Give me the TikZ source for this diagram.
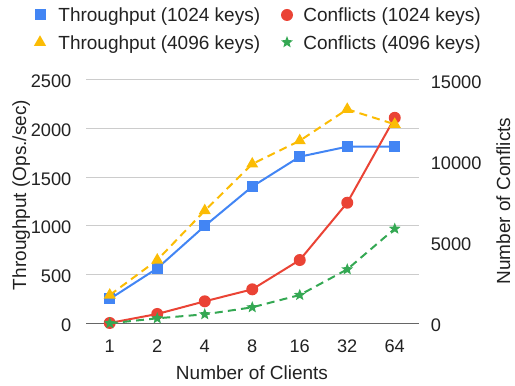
\documentclass[tikz,border=0pt]{standalone}
\usepackage{fontspec}
\setmainfont{Liberation Sans}
\usepackage{xcolor}
\usepackage{tikz}
\usetikzlibrary{shapes.geometric}
\definecolor{tpBlue}{RGB}{66,133,244}
\definecolor{cfRed}{RGB}{234,67,53}
\definecolor{tpYellow}{RGB}{251,188,4}
\definecolor{cfGreen}{RGB}{52,168,83}
\definecolor{gridGray}{RGB}{204,204,204}
\definecolor{axisGray}{RGB}{102,102,102}
\definecolor{txtGray}{RGB}{34,34,34}
\tikzset{
  sqmark/.style={rectangle, fill=tpBlue, inner sep=0pt, minimum size=5.5pt},
  circmark/.style={circle, fill=cfRed, inner sep=0pt, minimum size=6pt},
  trimark/.style={regular polygon, regular polygon sides=3, fill=tpYellow, inner sep=0pt, minimum size=7pt},
  starmark/.style={star, star points=5, star point ratio=2.3, fill=cfGreen, inner sep=0pt, minimum size=6.2pt},
  lineBlue/.style={tpBlue, line width=1pt},
  lineRed/.style={cfRed, line width=1pt},
  lineYellow/.style={tpYellow, line width=1pt, dash pattern=on 4pt off 2.6pt},
  lineGreen/.style={cfGreen, line width=1pt, dash pattern=on 4pt off 2.6pt},
  ticklab/.style={anchor=base, text=txtGray, inner sep=0pt},
  numlab/.style={ticklab, font=\fontsize{9.1}{11}\selectfont}
}

\begin{document}
\begin{tikzpicture}[x=0.5pt,y=0.5pt,font=\fontsize{9.5}{11}\selectfont]
    \useasboundingbox (0,0) rectangle (515,386);

    % legend
    \node[sqmark] (legA) at (40,371) {};
    \node[ticklab, anchor=base west] (legAtxt) at (58,364.2) {Throughput (1024 keys)};
    \node[circmark] (legB) at (287,371) {};
    \node[ticklab, anchor=base west] (legBtxt) at (303,364.2) {Conflicts (1024 keys)};
    \node[trimark] (legC) at (40,343.7) {};
    \node[ticklab, anchor=base west] (legCtxt) at (58,336.9) {Throughput (4096 keys)};
    \node[starmark] (legD) at (287,343.7) {};
    \node[ticklab, anchor=base west] (legDtxt) at (303,336.9) {Conflicts (4096 keys)};

    % axis titles
    \node[ticklab, rotate=90] (ylabL) at (26.2,191) {Throughput (Ops./sec)};
    \node[ticklab, rotate=90] (ylabR) at (510,185) {Number of Conflicts};
    \node[ticklab] (xlab) at (252,6) {Number of Clients};

    % throughput axis: grid and labels
    \begin{scope}[shift={(86,62.7)}, x=23.75pt, y=0.04866pt]
        \foreach \v in {500,1000,1500,2000,2500}
            \draw[gridGray, line width=0.5pt] (0,\v) -- (7,\v);
        \draw[axisGray, line width=0.6pt] (0,0) -- (7,0);
        \foreach \v in {0,500,1000,1500,2000,2500}
            \node[numlab, anchor=base east] at (-0.3,\v) [yshift=-4pt] {\v};
        \foreach \n [count=\i from 0] in {1,2,4,8,16,32,64}
            \node[numlab] at (\i+0.5,0) [yshift=-14.4pt] {\n};
    \end{scope}

    % conflicts axis labels
    \begin{scope}[shift={(86,62.7)}, x=23.75pt, y=0.008110pt]
        \foreach \v in {0,5000,10000,15000}
            \node[numlab, anchor=base west] at (7.25,\v) [yshift=-4pt] {\v};
    \end{scope}

    % throughput series
    \begin{scope}[shift={(86,62.7)}, x=23.75pt, y=0.04866pt]
        \draw[lineBlue] plot coordinates {(0.5,250) (1.5,565) (2.5,1000) (3.5,1405) (4.5,1712) (5.5,1815) (6.5,1815)};
        \foreach \i/\v in {0/250,1/565,2/1000,3/1405,4/1712,5/1815,6/1815}
            \node[sqmark] at (\i+0.5,\v) {};
    \end{scope}

    % conflicts series
    \begin{scope}[shift={(86,62.7)}, x=23.75pt, y=0.008110pt]
        \draw[lineRed] plot coordinates {(0.5,20) (1.5,575) (2.5,1356) (3.5,2096) (4.5,3904) (5.5,7440) (6.5,12680)};
        \foreach \i/\v in {0/20,1/575,2/1356,3/2096,4/3904,5/7440,6/12680}
            \node[circmark] at (\i+0.5,\v) {};
    \end{scope}

    \begin{scope}[shift={(86,62.7)}, x=23.75pt, y=0.04866pt]
        \draw[lineYellow] plot coordinates {(0.5,290) (1.5,650) (2.5,1157) (3.5,1637) (4.5,1876) (5.5,2199) (6.5,2045)};
        \foreach \i/\v in {0/290,1/650,2/1157,3/1637,4/1876,5/2199,6/2045}
            \node[trimark] at (\i+0.5,\v) {};
    \end{scope}

    \begin{scope}[shift={(86,62.7)}, x=23.75pt, y=0.008110pt]
        \draw[lineGreen] plot coordinates {(0.5,0) (1.5,308) (2.5,555) (3.5,986) (4.5,1747) (5.5,3329) (6.5,5836)};
        \foreach \i/\v in {0/0,1/308,2/555,3/986,4/1747,5/3329,6/5836}
            \node[starmark] at (\i+0.5,\v) {};
    \end{scope}
\end{tikzpicture}
\end{document}
